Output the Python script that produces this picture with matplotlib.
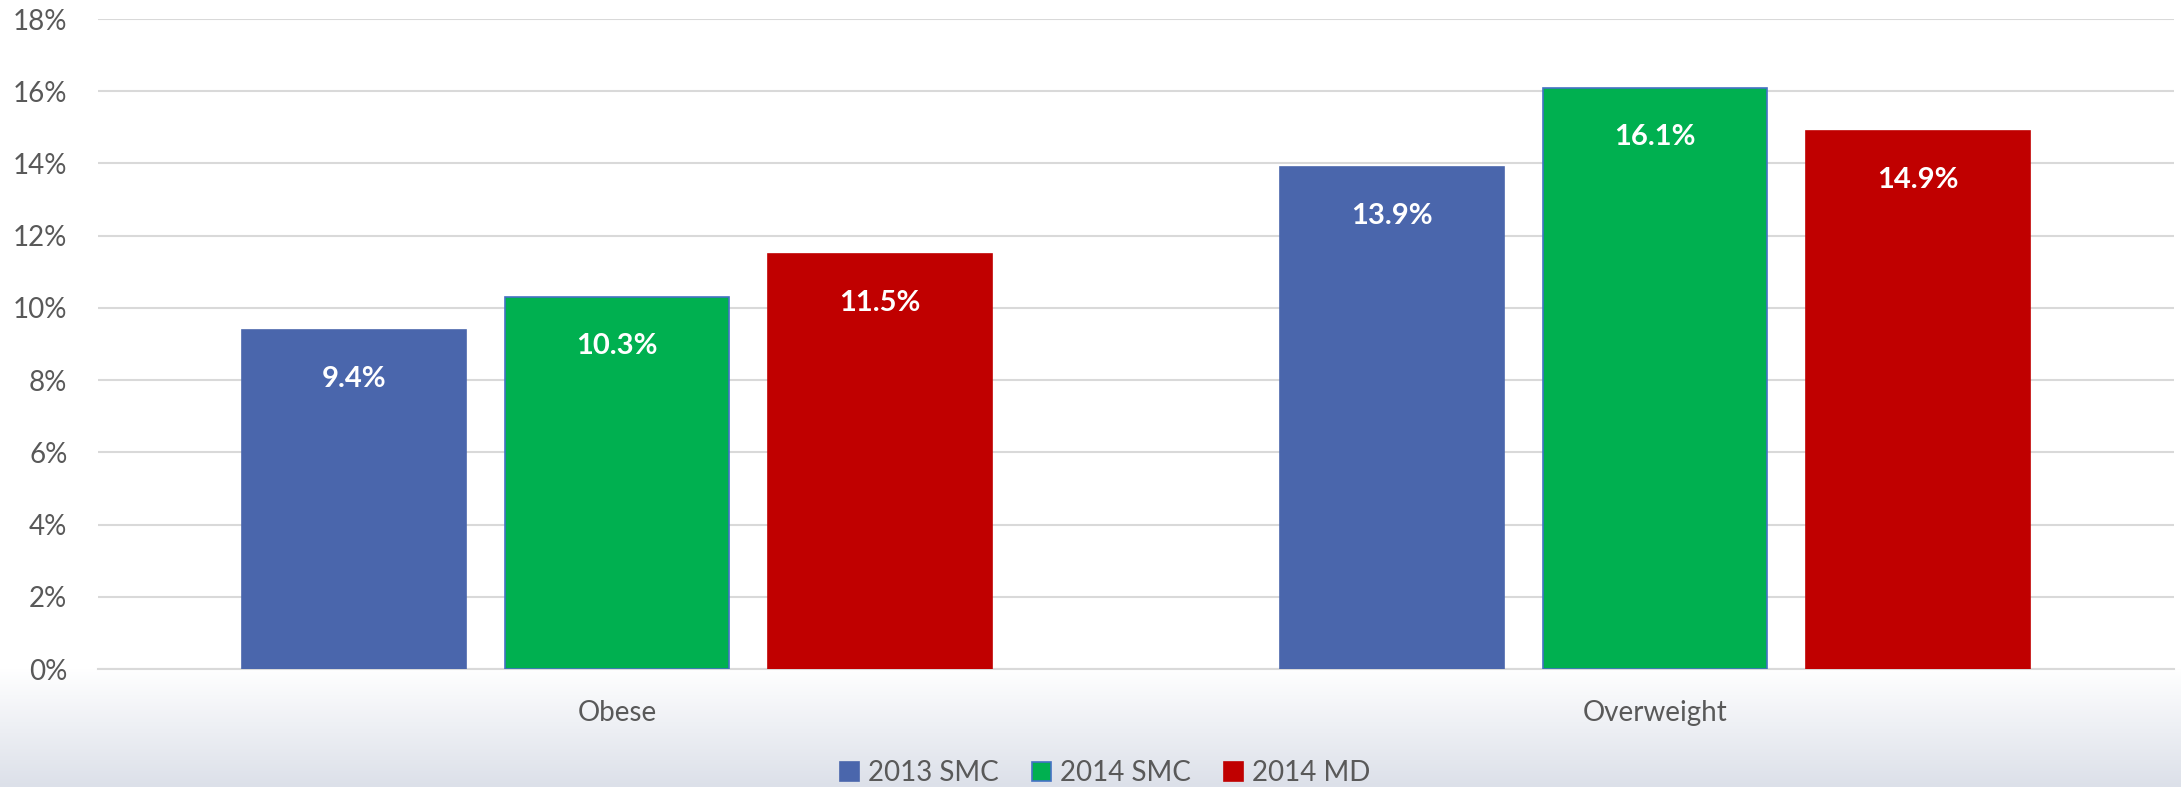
import numpy as np
import matplotlib
matplotlib.use("Agg")
import matplotlib.pyplot as plt
from matplotlib.colors import LinearSegmentedColormap

# data
categories = ["Obese", "Overweight"]
series = ["2013 SMC", "2014 SMC", "2014 MD"]
values_2013_smc = [9.4, 13.9]
values_2014_smc = [10.3, 16.1]
values_2014_md = [11.5, 14.9]
yticks = [0, 2, 4, 6, 8, 10, 12, 14, 16, 18]

colors = ["#4A66AC", "#00B050", "#C00000"]
edges = ["#4A66AC", "#4472C4", "#C00000"]

plt.rcParams["font.family"] = ["Lato", "DejaVu Sans"]

W, H = 2181, 787
fig = plt.figure(figsize=(W / 100, H / 100), dpi=100)
fig.patch.set_facecolor("white")

# grey gradient below the plot area
bg = fig.add_axes([0, 0, 1, 118 / H])
grad = np.linspace(0, 1, 256).reshape(-1, 1)
cmap = LinearSegmentedColormap.from_list("bg", ["#DCE0E9", "#FFFFFF"])
bg.imshow(grad, aspect="auto", cmap=cmap, origin="lower", extent=[0, 1, 0, 1])
bg.axis("off")
bg.set_zorder(0)

ax = fig.add_axes([98 / W, 118 / H, (2174 - 98) / W, 650 / H])
ax.set_zorder(1)
ax.patch.set_alpha(0)

x = np.arange(len(categories))
width = 0.216
step = 0.253
all_vals = [values_2013_smc, values_2014_smc, values_2014_md]
for i, (name, vals) in enumerate(zip(series, all_vals)):
    pos = x + (i - 1) * step
    bars = ax.bar(pos, vals, width, color=colors[i], edgecolor=edges[i],
                  linewidth=1.2, label=name, zorder=3)
    for b, v in zip(bars, vals):
        ax.annotate(f"{v:.1f}%", (b.get_x() + b.get_width() / 2, v),
                    xytext=(0, -35.5), textcoords="offset points",
                    ha="center", va="center", color="white",
                    fontsize=21, fontweight="bold", zorder=4)

ax.set_xlim(-0.5, 1.5)
ax.set_ylim(0, 18)
ax.set_yticks(yticks)
ax.set_yticklabels([f"{t}%" for t in yticks])
ax.set_xticks(x)
ax.set_xticklabels(categories)
ax.tick_params(axis="both", length=0, colors="#595959", labelsize=20)
ax.tick_params(axis="y", pad=22)
ax.tick_params(axis="x", pad=22)
ax.grid(axis="y", color="#D9D9D9", linewidth=1.5, zorder=0)
for s in ["top", "right", "left"]:
    ax.spines[s].set_visible(False)
ax.spines["bottom"].set_color("#D9D9D9")
ax.spines["bottom"].set_linewidth(1.5)

fig.legend(loc="center", bbox_to_anchor=(1105 / W, 14 / H), ncol=3,
           frameon=False, fontsize=20, labelcolor="#595959",
           handlelength=0.7, handleheight=0.7, handletextpad=0.3,
           columnspacing=1.2)

fig.savefig("out.png", dpi=100)
